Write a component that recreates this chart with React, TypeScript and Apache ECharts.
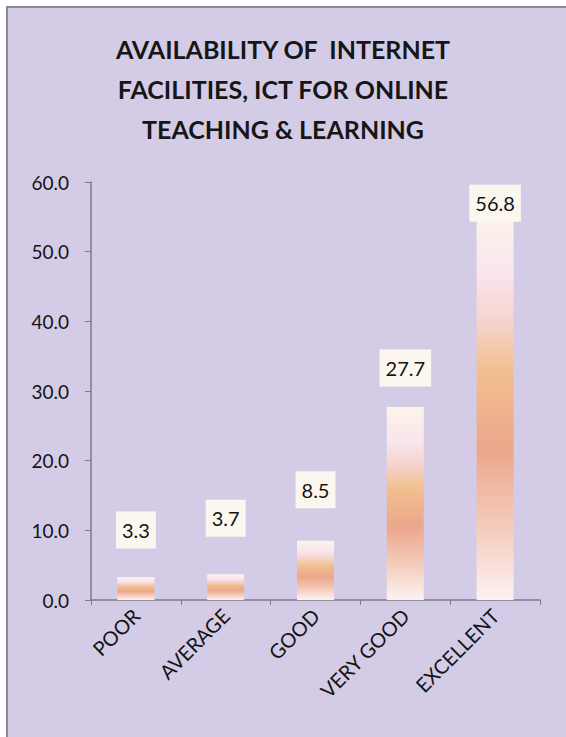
import React, { useEffect, useRef } from "react";
import * as echarts from "echarts";

const CATEGORIES = ["POOR", "AVERAGE", "GOOD", "VERY GOOD", "EXCELLENT"];
const VALUES = [3.3, 3.7, 8.5, 27.7, 56.8];
const Y_TICKS = [0, 10, 20, 30, 40, 50, 60];
const TITLE_LINES = [
  "AVAILABILITY OF  INTERNET",
  "FACILITIES, ICT FOR ONLINE",
  "TEACHING & LEARNING",
];
// vertical shift of each data label relative to its bar top (style only)
const LABEL_SHIFT = [-47, -56, -51, -39, -1];

export default function App() {
  const ref = useRef<HTMLDivElement>(null);
  useEffect(() => {
    if (!ref.current) return;
    const chart = echarts.init(ref.current, null, { renderer: "svg" });
    const font = "Lato, 'Open Sans', sans-serif";
    const barGradient = new echarts.graphic.LinearGradient(0, 0, 0, 1, [
      { offset: 0, color: "#fcf4ea" },
      { offset: 0.18, color: "#f9e5ec" },
      { offset: 0.3, color: "#f6d3cc" },
      { offset: 0.42, color: "#f1c08e" },
      { offset: 0.62, color: "#eca68c" },
      { offset: 0.82, color: "#f4cdbc" },
      { offset: 1, color: "#fcf2f2" },
    ]);
    chart.setOption({
      animation: false,
      backgroundColor: "#d4cce6",
      title: {
        text: TITLE_LINES.join("\n"),
        left: "center",
        top: 24,
        textStyle: {
          fontFamily: font,
          fontWeight: "bold",
          fontSize: 25,
          lineHeight: 40,
          color: "#161616",
        },
      },
      graphic: [
        {
          type: "line",
          shape: { x1: 7, y1: 6, x2: 7, y2: 737 },
          style: { stroke: "#8d8a95", lineWidth: 2 },
        },
        {
          type: "line",
          shape: { x1: 6, y1: 7, x2: 566, y2: 7 },
          style: { stroke: "#8d8a95", lineWidth: 2 },
        },
        {
          type: "rect",
          shape: { x: 0, y: 0, width: 6, height: 737 },
          style: { fill: "#ffffff" },
        },
        {
          type: "rect",
          shape: { x: 0, y: 0, width: 566, height: 6 },
          style: { fill: "#ffffff" },
        },
      ],
      grid: { left: 91, right: 26, top: 182, bottom: 137 },
      xAxis: {
        type: "category",
        data: CATEGORIES,
        axisLine: { lineStyle: { color: "#7f7a8c", width: 1.5 } },
        axisTick: { show: true, length: 5, lineStyle: { color: "#7f7a8c" } },
        axisLabel: {
          rotate: 45,
          fontFamily: font,
          fontSize: 20,
          color: "#141414",
          margin: 12,
          interval: 0,
        },
      },
      yAxis: {
        type: "value",
        min: Y_TICKS[0],
        max: Y_TICKS[Y_TICKS.length - 1],
        interval: 10,
        splitLine: { show: false },
        axisLine: { show: true, lineStyle: { color: "#7f7a8c", width: 1.5 } },
        axisTick: { show: true, length: 6, lineStyle: { color: "#7f7a8c" } },
        axisLabel: {
          fontFamily: font,
          fontSize: 19,
          color: "#141414",
          margin: 22,
          formatter: (v: number) => v.toFixed(1),
        },
      },
      series: [
        {
          type: "bar",
          barWidth: 37,
          data: VALUES.map((v, i) => ({
            value: v,
            label: { offset: [0, LABEL_SHIFT[i]] },
          })),
          itemStyle: { color: barGradient },
          label: {
            show: true,
            position: ["50%", 0],
            align: "center",
            verticalAlign: "middle",
            formatter: (p: any) => Number(p.value).toFixed(1),
            fontFamily: font,
            fontSize: 20,
            color: "#141414",
            backgroundColor: "#fbf7ee",
            padding: [9, 6, 8, 6],
          },
        },
      ],
    });
    return () => chart.dispose();
  }, []);
  return (
    <div
      ref={ref}
      style={{ position: "fixed", left: 0, top: 0, width: 566, height: 737 }}
    />
  );
}
